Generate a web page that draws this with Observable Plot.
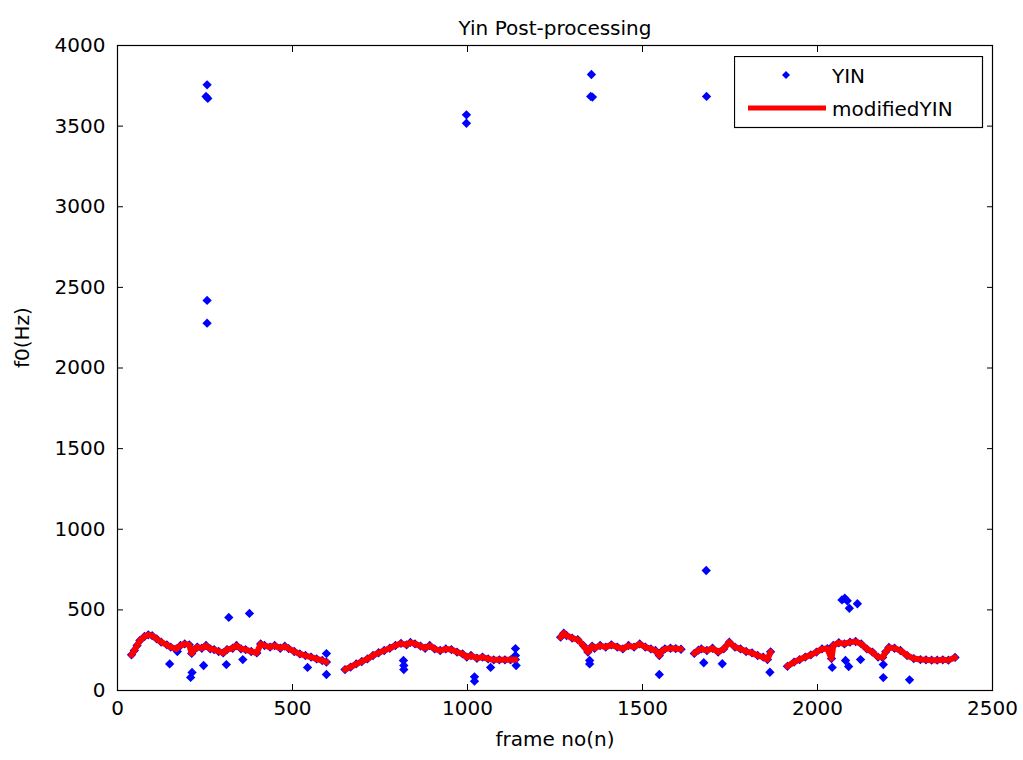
<!DOCTYPE html>
<html>
<head>
<meta charset="utf-8">
<script src="https://cdn.jsdelivr.net/npm/d3@7"></script>
<script src="https://cdn.jsdelivr.net/npm/@observablehq/plot@0.6"></script>
<style>
  html, body { margin: 0; padding: 0; background: #fff; overflow: hidden; }
  #wrap { position: relative; width: 1023px; height: 760px; }
  #legend { position: absolute; left: 734px; top: 56px; }
</style>
</head>
<body>
<div id="wrap"></div>
<script>
// ---- Data ----
const xTicks = [0, 500, 1000, 1500, 2000, 2500];
const yTicks = [0, 500, 1000, 1500, 2000, 2500, 3000, 3500, 4000];

// modifiedYIN: five voiced segments (frame no, f0 in Hz)
const seg1Frame = [40, 48, 56, 64, 77, 88, 99, 112, 125, 141, 152, 168, 180, 192, 205, 212, 217, 228, 241, 253, 265, 276, 289, 302, 313, 329, 340, 353, 366, 382, 398, 409, 420, 436, 449, 465, 478, 489, 505, 521, 537, 553, 569, 585, 597];
const seg1F0    = [221, 248, 279, 310, 335, 345, 340, 320, 300, 283, 269, 258, 279, 289, 283, 230, 248, 269, 262, 279, 258, 254, 242, 233, 254, 262, 279, 258, 254, 242, 233, 289, 279, 269, 279, 262, 275, 260, 242, 227, 217, 207, 196, 186, 176];

const seg2Frame = [650, 666, 682, 698, 714, 730, 746, 762, 778, 794, 810, 826, 837, 850, 866, 879, 892, 906, 922, 938, 954, 970, 986, 998, 1010, 1027, 1043, 1059, 1075, 1091, 1107, 1123, 1137];
const seg2F0    = [130, 145, 165, 180, 196, 217, 234, 248, 262, 279, 292, 283, 298, 289, 275, 262, 279, 258, 248, 258, 254, 238, 227, 207, 217, 200, 207, 196, 190, 190, 190, 190, 192];

const seg3Frame = [1266, 1275, 1283, 1299, 1315, 1331, 1344, 1356, 1363, 1379, 1395, 1411, 1428, 1444, 1460, 1476, 1492, 1508, 1524, 1537, 1548, 1556, 1564, 1580, 1595, 1610];
const seg3F0    = [331, 355, 341, 325, 316, 279, 238, 275, 262, 279, 269, 283, 269, 258, 279, 269, 289, 269, 258, 248, 217, 245, 258, 262, 260, 256];

const seg4Frame = [1648, 1660, 1668, 1684, 1700, 1716, 1732, 1748, 1764, 1780, 1796, 1813, 1829, 1845, 1857, 1866];
const seg4F0    = [230, 250, 258, 248, 262, 238, 258, 300, 269, 258, 242, 233, 217, 207, 192, 240];

const seg5Frame = [1914, 1933, 1949, 1965, 1981, 1997, 2013, 2028, 2040, 2045, 2061, 2077, 2093, 2109, 2125, 2141, 2157, 2173, 2186, 2195, 2204, 2220, 2237, 2256, 2275, 2294, 2310, 2326, 2342, 2358, 2374, 2393];
const seg5F0    = [150, 176, 192, 207, 221, 238, 258, 260, 198, 279, 296, 289, 300, 304, 289, 258, 238, 207, 205, 240, 267, 262, 248, 217, 198, 192, 190, 188, 188, 190, 188, 205];

// YIN raw estimates that differ from the post-processed track (octave errors etc.)
const yinOutFrame = [149, 171, 209, 213, 246, 311, 318, 358, 377, 543, 597, 597, 253, 256, 258, 256, 256, 817, 818, 818, 1020, 1020, 1066, 1137, 1137, 1139, 997, 997, 1349, 1349, 1354, 1352, 1357, 1548, 1683, 1682, 1675, 1728, 1864, 2042, 2070, 2078, 2085, 2091, 2114, 2080, 2089, 2123, 2188, 2188, 2263];
const yinOutF0    = [165, 242, 81, 112, 155, 161, 453, 192, 478, 143, 229, 99, 3684, 3756, 3672, 2419, 2278, 186, 155, 130, 85, 58, 143, 260, 217, 155, 3570, 3518, 186, 165, 3820, 3684, 3680, 99, 3684, 744, 172, 166, 113, 143, 562, 572, 556, 510, 538, 186, 149, 192, 161, 80, 66];

// ---- Build tables ----
const segments = [[seg1Frame, seg1F0], [seg2Frame, seg2F0], [seg3Frame, seg3F0], [seg4Frame, seg4F0], [seg5Frame, seg5F0]];
const modified = [];
segments.forEach(([fr, f0], i) => {
  fr.forEach((f, j) => modified.push({frame: f, f0: f0[j]}));
  if (i < segments.length - 1) modified.push({frame: NaN, f0: NaN});
});
const voiced = modified.filter(d => Number.isFinite(d.f0));
const outliers = yinOutFrame.map((f, i) => ({frame: f, f0: yinOutF0[i]}));
const yin = voiced.concat(outliers);

const BLUE = "#0000ff", RED = "#ff0000";
const FONT = "DejaVu Sans, Liberation Sans, sans-serif";

const chart = Plot.plot({
  width: 1023,
  height: 760,
  marginLeft: 117,
  marginRight: 31,
  marginTop: 45,
  marginBottom: 70,
  style: {fontFamily: FONT, fontSize: "20px", background: "#fff", color: "#000", overflow: "visible"},
  x: {domain: [0, 2500]},
  y: {domain: [0, 4000]},
  marks: [
    Plot.dot(yin, {x: "frame", y: "f0", symbol: "diamond2", r: 4.2, fill: BLUE, stroke: "none"}),
    Plot.line(modified, {x: "frame", y: "f0", stroke: RED, strokeWidth: 6, curve: "linear"}),
    Plot.frame({stroke: "#000", strokeWidth: 1.2}),
    Plot.axisX({anchor: "bottom", ticks: xTicks, tickSize: -6, tickPadding: 16, label: null, tickFormat: d => String(d)}),
    Plot.axisX({anchor: "top", ticks: xTicks, tickSize: -6, label: null, tickFormat: () => ""}),
    Plot.axisY({anchor: "left", ticks: yTicks, tickSize: -6, tickPadding: 18, label: null, tickFormat: d => String(d)}),
    Plot.axisY({anchor: "right", ticks: yTicks, tickSize: -6, label: null, tickFormat: () => ""}),
    Plot.text(["Yin Post-processing"], {frameAnchor: "top", dy: -25, fontSize: 20, fill: "#000"}),
    Plot.text(["frame no(n)"], {frameAnchor: "bottom", dy: 55, fontSize: 20, fill: "#000"}),
    Plot.text(["f0(Hz)"], {frameAnchor: "left", dx: -95, rotate: -90, fontSize: 20, fill: "#000"})
  ]
});

const wrap = document.getElementById("wrap");
wrap.appendChild(chart);

// ---- Legend (MATLAB style box) ----
const legend = document.createElement("div");
legend.id = "legend";
legend.innerHTML = `
<svg width="250" height="73" xmlns="http://www.w3.org/2000/svg" style="font-family:${FONT};font-size:20px">
  <rect x="0.5" y="0.5" width="248" height="71" fill="#fff" stroke="#000" stroke-width="1.2"></rect>
  <path d="M52,15 L56,19 L52,23 L48,19 Z" fill="${BLUE}"></path>
  <text x="98" y="20" dominant-baseline="central" fill="#000">YIN</text>
  <line x1="14" x2="92" y1="52" y2="52" stroke="${RED}" stroke-width="5"></line>
  <text x="98" y="53" dominant-baseline="central" fill="#000">modifiedYIN</text>
</svg>`;
wrap.appendChild(legend);
</script>
</body>
</html>
